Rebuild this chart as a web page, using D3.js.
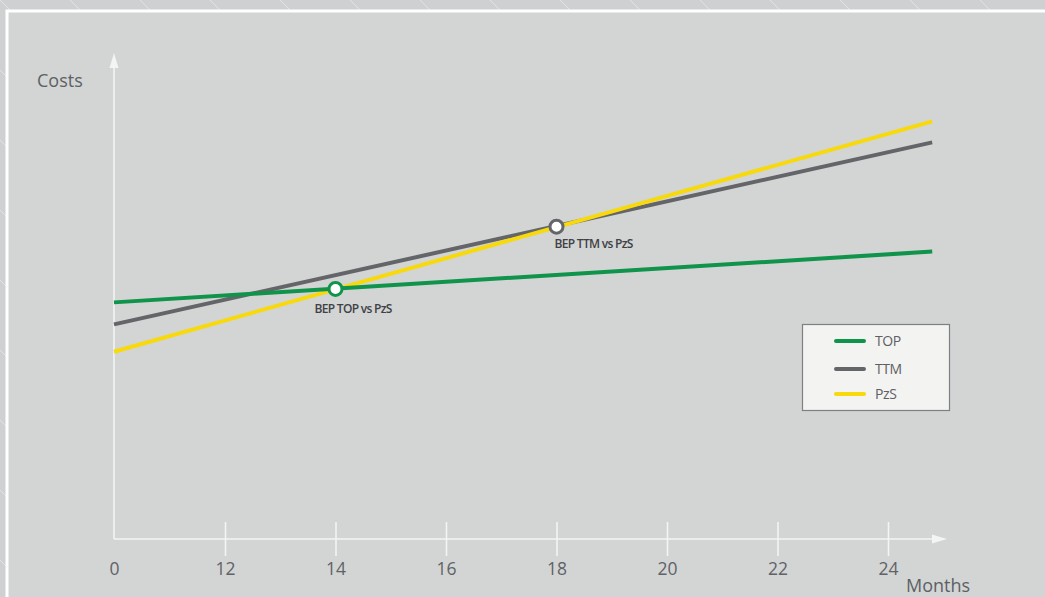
<!DOCTYPE html>
<html><head><meta charset="utf-8">
<script src="https://cdn.jsdelivr.net/npm/d3@7"></script>
<style>
html,body{margin:0;padding:0;background:#cfd0d2;overflow:hidden;}
svg{display:block;overflow:hidden;}
text{font-family:"Open Sans","Noto Sans",sans-serif;}
</style></head>
<body>
<svg id="chart" width="1045" height="597"></svg>
<script>
// ---- data ----
const months = [0, 24.8];
const seriesNames = ["TOP", "TTM", "PzS"];
const topCosts = [49.4, 60.0];
const ttmCosts = [44.8, 82.8];
const pzsCosts = [39.1, 87.2];
const tickMonths = [0, 12, 14, 16, 18, 20, 22, 24];
const tickLabels = ["0", "12", "14", "16", "18", "20", "22", "24"];
const bepMonths = [14, 18];
const bepCosts = [52.2, 65.2];
const bepLabels = ["BEP TOP vs PzS", "BEP TTM vs PzS"];
const bepSeries = ["TOP", "TTM"];

const colors = {TOP: "#10934a", TTM: "#636568", PzS: "#f7d90c"};
const seriesData = {TOP: topCosts, TTM: ttmCosts, PzS: pzsCosts};

const svg = d3.select("#chart");

// background with faint diagonal lines
const defs = svg.append("defs");
const pat = defs.append("pattern").attr("id", "diag").attr("patternUnits", "userSpaceOnUse")
  .attr("width", 70).attr("height", 70);
pat.append("rect").attr("width", 70).attr("height", 70).attr("fill", "#cfd0d2");
pat.append("line").attr("x1", 0).attr("y1", 0).attr("x2", 70).attr("y2", 70)
  .attr("stroke", "#e2e3e4").attr("stroke-width", 1);
svg.append("rect").attr("width", 1045).attr("height", 597).attr("fill", "url(#diag)");
svg.append("rect").attr("x", 7).attr("y", 11).attr("width", 1060).attr("height", 600)
  .attr("fill", "#d2d5d4").attr("stroke", "#ffffff").attr("stroke-width", 3);

// scales
const x = d3.scaleLinear().domain([0, 12, 24]).range([114, 225, 888]);
const y = d3.scaleLinear().domain([0, 100]).range([539, 60]);

const axisColor = "#f3f4f4";
// y axis line + arrow
svg.append("line").attr("x1", 114).attr("x2", 114).attr("y1", 66).attr("y2", 539)
  .attr("stroke", axisColor).attr("stroke-width", 1.6);
svg.append("path").attr("d", "M114,53 L118.5,68 L109.5,68 Z").attr("fill", axisColor);
// x axis line + arrow
svg.append("line").attr("x1", 114).attr("x2", 935).attr("y1", 539).attr("y2", 539)
  .attr("stroke", axisColor).attr("stroke-width", 1.6);
svg.append("path").attr("d", "M947,539 L932,534.5 L932,543.5 Z").attr("fill", axisColor);

// x axis ticks via d3 axis
const xAxis = d3.axisBottom(x).tickValues(tickMonths)
  .tickFormat((d, i) => tickLabels[i]).tickSize(17).tickPadding(14);
const gx = svg.append("g").attr("transform", "translate(0,539)").call(xAxis);
gx.select(".domain").remove();
gx.selectAll(".tick line").attr("y1", -17).attr("y2", 17)
  .attr("stroke", axisColor).attr("stroke-width", 1.6)
  .filter(d => d === 0).remove();
gx.selectAll(".tick text").attr("fill", "#5f6266").attr("font-size", 17.5)
  .attr("font-family", "'Open Sans', sans-serif").attr("y", 24).attr("dy", "0.71em");

// axis titles
svg.append("text").attr("x", 37).attr("y", 87).attr("font-size", 18)
  .attr("fill", "#5d6064").text("Costs");
svg.append("text").attr("x", 906).attr("y", 592).attr("font-size", 18)
  .attr("fill", "#5d6064").text("Months");

// lines
const line = d3.line().x(d => x(d[0])).y(d => y(d[1]));
["TTM", "PzS", "TOP"].forEach(name => {
  const pts = months.map((m, i) => [m, seriesData[name][i]]);
  svg.append("path").datum(pts).attr("d", line).attr("fill", "none")
    .attr("stroke", colors[name]).attr("stroke-width", 4).attr("stroke-linecap", "butt");
});

// BEP points
const labelDx = [-21, -2], labelDy = [24, 21];
bepMonths.forEach((m, i) => {
  svg.append("circle").attr("cx", x(m)).attr("cy", y(bepCosts[i])).attr("r", 6.5)
    .attr("fill", "#ffffff").attr("stroke", colors[bepSeries[i]]).attr("stroke-width", 3);
  svg.append("text").attr("x", x(m) + labelDx[i]).attr("y", y(bepCosts[i]) + labelDy[i])
    .attr("font-size", 12).attr("font-weight", 600).attr("letter-spacing", -0.7).attr("fill", "#3f4144")
    .text(bepLabels[i]);
});

// legend
const lg = svg.append("g");
lg.append("rect").attr("x", 802.5).attr("y", 324.5).attr("width", 147).attr("height", 86)
  .attr("fill", "#f3f3f1").attr("stroke", "#7d7f81").attr("stroke-width", 1.2);
const legendY = [341, 369, 394];
seriesNames.forEach((name, i) => {
  lg.append("line").attr("x1", 836).attr("x2", 864).attr("y1", legendY[i]).attr("y2", legendY[i])
    .attr("stroke", colors[name]).attr("stroke-width", 4).attr("stroke-linecap", "round");
  lg.append("text").attr("x", 875).attr("y", legendY[i]).attr("dy", "0.36em")
    .attr("font-size", 14).attr("letter-spacing", -0.4).attr("fill", "#5d6064").text(name);
});
</script>
</body></html>
